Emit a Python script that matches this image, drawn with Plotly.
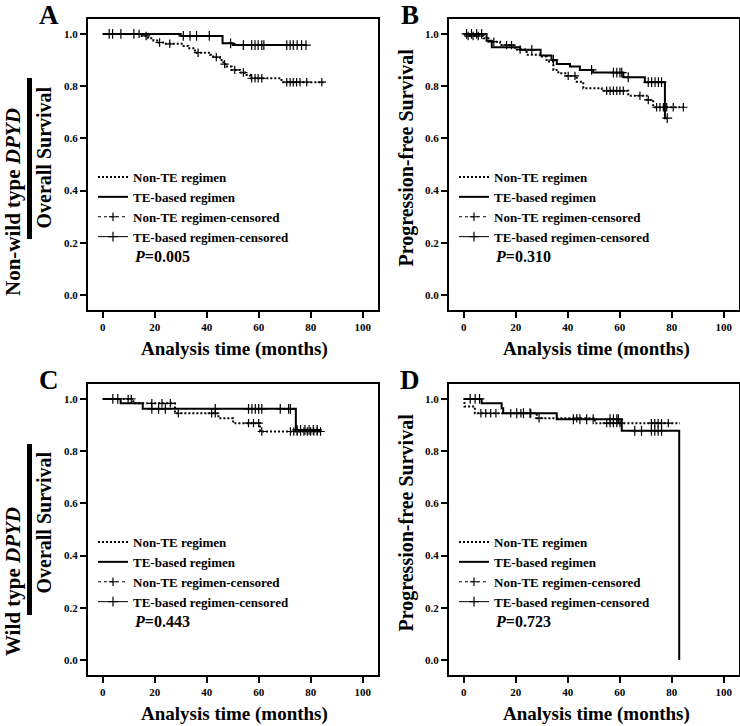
import numpy as np
import plotly.graph_objects as go

# ---------------- data ----------------
# Panel A: non-wild type DPYD, overall survival
A_te_t = [0, 30.0, 46.1, 50.0, 78.5]
A_te_s = [1.0, 0.992, 0.964, 0.957, 0.957]
A_non_t = [0, 15.0, 17.5, 19.5, 21.4, 24.3, 30.4, 32.9, 35.5, 41.3, 42.5, 45.1,
           46.4, 47.7, 49.6, 52.8, 54.7, 56.7, 68.8, 84.9]
A_non_s = [1.0, 0.992, 0.983, 0.975, 0.967, 0.962, 0.954, 0.945, 0.928, 0.920, 0.911, 0.900,
           0.884, 0.875, 0.862, 0.852, 0.843, 0.830, 0.815, 0.815]
A_te_cens = [2.5, 3.8, 7.0, 12.0, 31.0, 33.6, 36.1, 41.0, 49.2, 54.1, 57.3, 58.6, 59.8,
             61.2, 62.0, 70.8, 72.1, 73.3, 74.8, 76.5, 78.2]
A_non_cens = [14.0, 16.7, 21.9, 25.8, 36.7, 43.7, 46.9, 50.8, 54.1, 57.3, 58.6, 59.8, 61.2,
              70.8, 72.1, 73.3, 74.6, 75.9, 78.5, 84.3]

# Panel B: non-wild type DPYD, progression-free survival
B_te_t = [0, 8.8, 10.8, 21.7, 29.6, 33.8, 35.8, 40.9, 44.7, 49.8, 61.4, 69.7, 77.4, 78.3]
B_te_s = [1.0, 0.974, 0.949, 0.939, 0.917, 0.900, 0.885, 0.875, 0.862, 0.852, 0.834, 0.815,
          0.677, 0.677]
B_non_t = [0, 1.1, 7.6, 9.5, 14.0, 19.7, 24.2, 29.3, 31.9, 34.5, 36.4, 39.6, 43.5, 46.0,
           53.1, 63.3, 70.4, 72.9, 84.5]
B_non_s = [1.0, 0.992, 0.983, 0.970, 0.957, 0.940, 0.920, 0.913, 0.894, 0.862, 0.849, 0.839,
           0.817, 0.792, 0.782, 0.763, 0.747, 0.719, 0.719]
B_te_cens = [1.1, 3.0, 5.0, 6.9, 26.2, 34.5, 49.2, 57.6, 58.9, 60.1, 60.8, 63.3, 71.0, 72.3,
             73.6, 74.9, 76.1, 78.3]
B_non_cens = [1.7, 3.6, 5.6, 11.6, 16.5, 18.4, 21.7, 40.2, 42.8, 55.0, 56.3, 57.6, 58.9,
              60.1, 61.4, 67.8, 71.0, 74.2, 75.5, 76.8, 78.1, 80.6, 84.5]

# Panel C: wild type DPYD, overall survival
C_te_t = [0, 6.9, 15.4, 74.3, 83.6]
C_te_s = [1.0, 0.983, 0.962, 0.881, 0.881]
C_non_t = [0, 11.8, 27.8, 44.5, 50.2, 60.5, 83.6]
C_non_s = [1.0, 0.983, 0.945, 0.926, 0.907, 0.875, 0.875]
C_te_cens = [3.9, 5.8, 18.9, 21.5, 24.1, 43.3, 56.1, 57.4, 58.7, 60.0, 61.2, 68.3, 71.5,
             72.2, 74.8, 76.1, 77.8, 79.4, 81.0, 82.5]
C_non_cens = [9.8, 11.0, 18.9, 22.8, 26.0, 29.1, 41.9, 43.3, 56.1, 58.0, 60.0, 61.2, 72.2,
              73.5, 74.8, 76.1, 77.4, 78.7, 80.0, 81.2, 82.5, 83.8]

# Panel D: wild type DPYD, progression-free survival
D_te_t = [0, 6.9, 14.6, 15.2, 35.8, 60.8, 82.9]
D_te_s = [1.0, 0.983, 0.964, 0.945, 0.922, 0.878, 0.0]
D_non_t = [0, 0.3, 4.3, 28.1, 50.5, 83.2]
D_non_s = [1.0, 0.971, 0.945, 0.926, 0.907, 0.907]
D_te_cens = [2.5, 4.4, 6.1, 20.4, 23.0, 25.5, 42.2, 44.7, 47.3, 49.8, 56.3, 57.6, 58.9,
             59.5, 65.8, 68.4, 72.2, 73.5, 74.8, 76.1]
D_non_cens = [6.6, 8.5, 10.4, 12.4, 18.1, 22.0, 25.8, 29.0, 43.5, 55.0, 56.3, 57.6, 58.9,
              60.1, 72.2, 73.5, 74.8, 76.1, 78.7]

panel_letters = ["A", "B", "C", "D"]
y_titles = ["Overall Survival", "Progression-free Survival",
            "Overall Survival", "Progression-free Survival"]
p_values = ["0.005", "0.310", "0.443", "0.723"]
row_labels = ["Non-wild type <i>DPYD</i>", "Wild type <i>DPYD</i>"]
legend_names = ["Non-TE regimen", "TE-based regimen",
                "Non-TE regimen-censored", "TE-based regimen-censored"]
x_tickvals = [0, 20, 40, 60, 80, 100]
y_tickvals = [0.0, 0.2, 0.4, 0.6, 0.8, 1.0]
y_ticktext = ["0.0", "0.2", "0.4", "0.6", "0.8", "1.0"]

panels = [
    (A_non_t, A_non_s, A_te_t, A_te_s, A_non_cens, A_te_cens),
    (B_non_t, B_non_s, B_te_t, B_te_s, B_non_cens, B_te_cens),
    (C_non_t, C_non_s, C_te_t, C_te_s, C_non_cens, C_te_cens),
    (D_non_t, D_non_s, D_te_t, D_te_s, D_non_cens, D_te_cens),
]

# ---------------- layout geometry (pixels) ----------------
W, H = 740, 726
FONT = "Liberation Serif, Times New Roman, serif"
boxes = [(88, 19, 378, 310), (449, 19, 739, 310), (88, 384, 378, 675), (449, 384, 739, 675)]
ytitle_offsets = [45, 43, 45, 43]


def px(x):
    return x / W


def py(y):
    return 1 - y / H


def step_value(t, s, c):
    t = np.asarray(t)
    s = np.asarray(s)
    idx = np.searchsorted(t, np.asarray(c), side="right") - 1
    return s[np.clip(idx, 0, len(s) - 1)]


def isolated(xs, ys):
    xo, yo = [], []
    for a, b in zip(xs, ys):
        xo += [a, None]
        yo += [float(b), None]
    return xo, yo


fig = go.Figure()

for i, (nt, ns, tt, ts, nc, tc) in enumerate(panels):
    k = "" if i == 0 else str(i + 1)
    xa, ya = "x" + k, "y" + k
    lg = "legend" + k
    fig.add_trace(go.Scatter(x=nt, y=ns, mode="lines", line=dict(shape="hv", color="black",
                             width=2, dash="2px,2px"), name=legend_names[0],
                             xaxis=xa, yaxis=ya, legend=lg))
    fig.add_trace(go.Scatter(x=tt, y=ts, mode="lines", line=dict(shape="hv", color="black",
                             width=2), name=legend_names[1],
                             xaxis=xa, yaxis=ya, legend=lg))
    cx, cy = isolated(nc, step_value(nt, ns, nc))
    fig.add_trace(go.Scatter(x=cx, y=cy, mode="lines+markers",
                             line=dict(color="black", width=1, dash="3px,3px"),
                             marker=dict(symbol="cross-thin", size=6, color="black",
                                         line=dict(width=1.2, color="black")),
                             name=legend_names[2], xaxis=xa, yaxis=ya, legend=lg))
    cx, cy = isolated(tc, step_value(tt, ts, tc))
    fig.add_trace(go.Scatter(x=cx, y=cy, mode="lines+markers",
                             line=dict(color="black", width=1),
                             marker=dict(symbol="cross-thin", size=7, color="black",
                                         line=dict(width=1.2, color="black")),
                             name=legend_names[3], xaxis=xa, yaxis=ya, legend=lg))

layout = dict(
    width=W, height=H, margin=dict(l=0, r=0, t=0, b=0),
    paper_bgcolor="white", plot_bgcolor="white", showlegend=True,
    font=dict(family=FONT, color="black"),
)

annotations = []
shapes = []
for i, (x0, y0, x1, y1) in enumerate(boxes):
    k = "" if i == 0 else str(i + 1)
    axis_common = dict(showline=True, mirror=True, linecolor="black", linewidth=2,
                       ticks="outside", ticklen=6, tickwidth=1.5, tickcolor="black",
                       showgrid=False, zeroline=False,
                       tickfont=dict(family=FONT, size=11, color="black", weight=700))
    layout["xaxis" + k] = dict(domain=[px(x0), px(x1)], range=[-5.65, 105.9],
                               anchor="y" + k, tickvals=x_tickvals, **axis_common)
    layout["yaxis" + k] = dict(domain=[py(y1), py(y0)], range=[-0.0575, 1.057],
                               anchor="x" + k, tickvals=y_tickvals, ticktext=y_ticktext,
                               **axis_common)
    row_mid = 207 if i < 2 else 572
    layout["legend" + k] = dict(x=px(x0 + 5), xanchor="left", y=py(row_mid), yanchor="middle",
                                bgcolor="rgba(0,0,0,0)", borderwidth=0, itemwidth=30,
                                font=dict(family=FONT, size=13, color="black", weight=700),
                                traceorder="normal")
    annotations.append(dict(text="<b>%s</b>" % panel_letters[i], x=px(x0 - 39), y=py(y0 - 4),
                            xref="paper", yref="paper", showarrow=False,
                            xanchor="center", yanchor="middle",
                            font=dict(family=FONT, size=27, color="black")))
    annotations.append(dict(text="<b>%s</b>" % y_titles[i], x=px(x0 - ytitle_offsets[i]),
                            y=py((y0 + y1) / 2 - 7),
                            xref="paper", yref="paper", showarrow=False, textangle=-90,
                            xanchor="center", yanchor="middle",
                            font=dict(family=FONT, size=20, color="black")))
    annotations.append(dict(text="<b>Analysis time (months)</b>", x=px(x0 + 147),
                            y=py(y1 + 39), xref="paper", yref="paper", showarrow=False,
                            xanchor="center", yanchor="middle",
                            font=dict(family=FONT, size=19, color="black")))
    annotations.append(dict(text="<b><i>P</i>=%s</b>" % p_values[i], x=px(x0 + 44),
                            y=py(y0 + 237), xref="paper", yref="paper",
                            showarrow=False, xanchor="left", yanchor="middle",
                            font=dict(family=FONT, size=16, color="black")))

for r, (yc, b0, b1) in enumerate([(202, 78, 239), (582, 444, 615)]):
    annotations.append(dict(text="<b>%s</b>" % row_labels[r], x=px(13), y=py(yc),
                            xref="paper", yref="paper", showarrow=False, textangle=-90,
                            xanchor="center", yanchor="middle",
                            font=dict(family=FONT, size=21, color="black")))
    shapes.append(dict(type="rect", xref="paper", yref="paper", x0=px(27), x1=px(32),
                       y0=py(b1), y1=py(b0), fillcolor="black", line=dict(width=0)))

layout["annotations"] = annotations
layout["shapes"] = shapes
fig.update_layout(**layout)

fig.write_html("out.html", config={"displayModeBar": False},
               post_script="document.body.style.margin='0px';")
